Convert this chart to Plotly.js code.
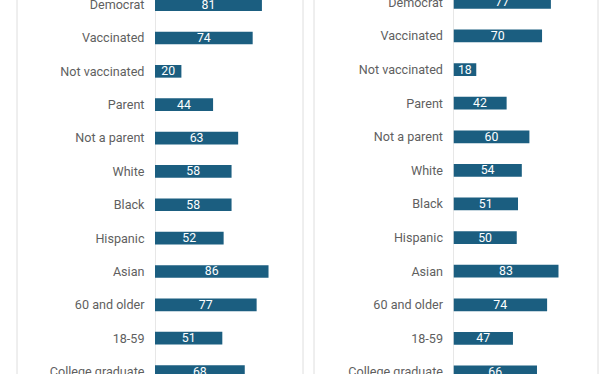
<!DOCTYPE html>
<html>
<head>
<meta charset="utf-8">
<script src="https://cdn.plot.ly/plotly-3.0.1.min.js"></script>
<style>html,body{margin:0;padding:0;background:#fff;}#chart{width:612px;height:374px;}</style>
</head>
<body>
<div id="chart"></div>
<script>
const categories = ["Democrat","Vaccinated","Not vaccinated","Parent","Not a parent","White","Black","Hispanic","Asian","60 and older","18-59","College graduate"];
const leftValues = [81,74,20,44,63,58,58,52,86,77,51,68];
const rightValues = [77,70,18,42,60,54,51,50,83,74,47,66];

const barColor = "#1b5e80";
const labelColor = "#5f5f5f";
const fontFamily = "Roboto, 'Liberation Sans', Arial, sans-serif";

function barTrace(vals, xa, ya){
  return {
    type: "bar", orientation: "h",
    x: vals, y: categories,
    xaxis: xa, yaxis: ya,
    marker: {color: barColor, line: {width: 0}},
    width: 0.38,
    text: vals.map(String),
    textposition: "inside",
    insidetextanchor: "middle",
    constraintext: "none",
    textangle: 0,
    textfont: {color: "#ffffff", size: 12.3, family: fontFamily},
    hoverinfo: "skip"
  };
}

const W = 612;
const yCommon = {
  type: "category", showgrid: false, zeroline: false, showline: false,
  ticks: "outside", ticklen: 7, tickcolor: "rgba(0,0,0,0)",
  tickfont: {size: 12.6, color: labelColor, family: fontFamily},
  fixedrange: true
};
const xCommon = {showgrid:false, zeroline:false, showline:false, showticklabels:false, ticks:"", fixedrange:true};

const layout = {
  width: 612, height: 374,
  margin: {l:0, r:0, t:0, b:0},
  paper_bgcolor: "#ffffff", plot_bgcolor: "rgba(0,0,0,0)",
  showlegend: false,
  bargap: 0.62,
  xaxis: Object.assign({}, xCommon, {domain: [155/W, 303/W], range: [0, 148/1.32]}),
  yaxis: Object.assign({}, yCommon, {anchor: "x", range: [11.073, -0.138]}),
  xaxis2: Object.assign({}, xCommon, {domain: [453.5/W, 598/W], range: [0, 144.5/1.265]}),
  yaxis2: Object.assign({}, yCommon, {anchor: "x2", range: [11.06, -0.071]}),
  shapes: [
    {type:"line", xref:"paper", yref:"paper", x0:17/W, x1:17/W, y0:0, y1:1, line:{color:"#dedede", width:1}},
    {type:"line", xref:"paper", yref:"paper", x0:303/W, x1:303/W, y0:0, y1:1, line:{color:"#dedede", width:1}},
    {type:"line", xref:"paper", yref:"paper", x0:314/W, x1:314/W, y0:0, y1:1, line:{color:"#dedede", width:1}},
    {type:"line", xref:"paper", yref:"paper", x0:598/W, x1:598/W, y0:0, y1:1, line:{color:"#dedede", width:1}},
    {type:"line", xref:"x", yref:"paper", x0:0, x1:0, y0:0, y1:1, line:{color:"#d0d0d0", width:1}, layer:"below"},
    {type:"line", xref:"x2", yref:"paper", x0:0, x1:0, y0:0, y1:1, line:{color:"#d0d0d0", width:1}, layer:"below"}
  ]
};

Plotly.newPlot("chart", [barTrace(leftValues, "x", "y"), barTrace(rightValues, "x2", "y2")], layout, {displayModeBar:false, staticPlot:true});
</script>
</body>
</html>
